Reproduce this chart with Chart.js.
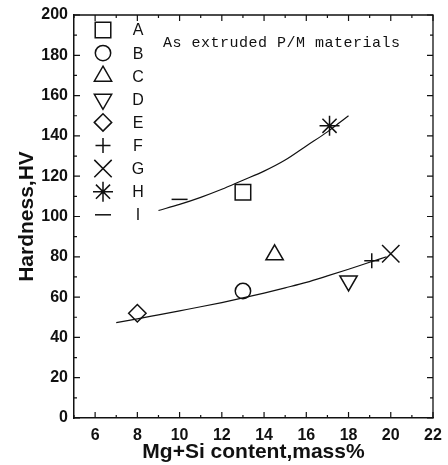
<!DOCTYPE html>
<html>
<head>
<meta charset="utf-8">
<script src="https://cdn.jsdelivr.net/npm/chart.js@4.4.0/dist/chart.umd.min.js"></script>
<style>
  html, body { margin: 0; padding: 0; background: #fff; }
  #wrap { width: 448px; height: 465px; }
</style>
</head>
<body>
<div id="wrap"><canvas id="hardnessChart" width="448" height="465"></canvas></div>
<script>
// Measured points, one per material
const materials = ["A", "B", "C", "D", "E", "F", "G", "H", "I"];
const mgSiContent = [13, 13, 14.5, 18, 8, 19.1, 20, 17.1, 10];
const hardnessHV = [112, 63, 81, 68, 52, 78, 81.5, 145, 108.5];

// Trend curves
const upperCurveX = [9, 10, 11, 12, 13, 14, 15, 16, 17, 17.5, 18];
const upperCurveY = [103, 106, 109.5, 113.5, 118, 122.5, 128, 135, 142, 146, 150];
const lowerCurveX = [7, 8, 9, 10, 11, 12, 13, 14, 15, 16, 17, 18, 19, 19.8];
const lowerCurveY = [47.3, 49.2, 51.2, 53.2, 55.2, 57.3, 59.6, 62, 64.6, 67.3, 70.5, 73.8, 77.3, 80];

// Axis tick labels
const xTickLabels = [6, 8, 10, 12, 14, 16, 18, 20, 22];
const yTickLabels = [0, 20, 40, 60, 80, 100, 120, 140, 160, 180, 200];

const INK = "#111";

// marker look for each material
const markerStyles = {
  A: { pointStyle: "rect", radius: 11, rotation: 0 },
  B: { pointStyle: "circle", radius: 7.7, rotation: 0 },
  C: { pointStyle: "triangle", radius: 10, rotation: 0 },
  D: { pointStyle: "triangle", radius: 10, rotation: 180 },
  E: { pointStyle: "rectRot", radius: 8.7, rotation: 0 },
  F: { pointStyle: "cross", radius: 7.5, rotation: 0 },
  G: { pointStyle: "crossRot", radius: 12.3, rotation: 0 },
  H: { pointStyle: "star", radius: 10, rotation: 0 },
  I: { pointStyle: "line", radius: 8, rotation: 0 },
};

const pointDatasets = materials.map((name, i) => ({
  label: name,
  data: [{ x: mgSiContent[i], y: hardnessHV[i] }],
  showLine: false,
  pointStyle: markerStyles[name].pointStyle,
  pointRotation: markerStyles[name].rotation,
  pointRadius: markerStyles[name].radius,
  pointHoverRadius: markerStyles[name].radius,
  pointBorderColor: INK,
  pointBackgroundColor: "rgba(0,0,0,0)",
  pointBorderWidth: 1.5,
}));

function curveDataset(xs, ys) {
  return {
    label: "",
    data: xs.map((x, i) => ({ x: x, y: ys[i] })),
    showLine: true,
    borderColor: INK,
    borderWidth: 1.2,
    pointRadius: 0,
    cubicInterpolationMode: "monotone",
    fill: false,
  };
}

// frame, inward ticks, legend and caption
const decorPlugin = {
  id: "decor",
  afterDatasetsDraw(chart) {
    const ctx = chart.ctx;
    const area = chart.chartArea;
    const xs = chart.scales.x;
    const ys = chart.scales.y;
    ctx.save();
    ctx.strokeStyle = INK;
    ctx.lineWidth = 1.3;

    // top and right frame lines
    ctx.beginPath();
    ctx.moveTo(area.left, area.top);
    ctx.lineTo(area.right, area.top);
    ctx.lineTo(area.right, area.bottom);
    ctx.stroke();

    // inward ticks on all four sides
    ctx.lineWidth = 1.2;
    ctx.beginPath();
    for (let v = 5; v <= 22; v++) {
      const px = xs.getPixelForValue(v);
      const len = v % 2 === 0 ? 6 : 3;
      ctx.moveTo(px, area.bottom);
      ctx.lineTo(px, area.bottom - len);
      ctx.moveTo(px, area.top);
      ctx.lineTo(px, area.top + len);
    }
    for (let v = 0; v <= 200; v += 10) {
      const py = ys.getPixelForValue(v);
      const len = v % 20 === 0 ? 6 : 3;
      ctx.moveTo(area.left, py);
      ctx.lineTo(area.left + len, py);
      ctx.moveTo(area.right, py);
      ctx.lineTo(area.right - len, py);
    }
    ctx.stroke();

    // legend inside the plot
    ctx.lineWidth = 1.5;
    materials.forEach((name, i) => {
      const y = area.top + 15 + i * 23.1;
      const m = markerStyles[name];
      ctx.strokeStyle = INK;
      ctx.fillStyle = "rgba(0,0,0,0)";
      Chart.helpers.drawPoint(ctx, {
        pointStyle: m.pointStyle,
        rotation: m.rotation,
        radius: m.radius,
        borderWidth: 1.5,
      }, area.left + 29, y);
    });
    ctx.fillStyle = INK;
    ctx.font = "16px 'Liberation Sans', Arial, sans-serif";
    ctx.textAlign = "center";
    ctx.textBaseline = "middle";
    materials.forEach((name, i) => {
      ctx.fillText(name, area.left + 64, area.top + 16 + i * 23.1);
    });

    // caption
    ctx.font = "15px 'Liberation Mono', monospace";
    ctx.letterSpacing = "0.5px";
    ctx.textAlign = "left";
    ctx.fillText("As extruded P/M materials", area.left + 89, area.top + 28);
    ctx.restore();
  },
};

const ctx = document.getElementById("hardnessChart").getContext("2d");

const hardnessChart = new Chart(ctx, {
  type: "scatter",
  data: {
    datasets: [
      ...pointDatasets,
      curveDataset(upperCurveX, upperCurveY),
      curveDataset(lowerCurveX, lowerCurveY),
    ],
  },
  options: {
    responsive: false,
    animation: false,
    layout: {
      padding: { top: 15, right: 15, left: 0, bottom: 0 },
    },
    plugins: {
      legend: { display: false },
      tooltip: { enabled: false },
    },
    scales: {
      x: {
        type: "linear",
        min: 5,
        max: 22,
        afterBuildTicks: (scale) => {
          scale.ticks = xTickLabels.map((v) => ({ value: v }));
        },
        afterFit: (scale) => {
          scale.height = 47;
        },
        grid: { display: false },
        border: { display: true, color: INK, width: 1.5 },
        ticks: {
          color: INK,
          padding: 0,
          maxRotation: 0,
          font: { family: "'Liberation Sans', Arial, sans-serif", size: 16, weight: "bold" },
        },
        title: {
          display: true,
          text: "Mg+Si content,mass%",
          color: INK,
          padding: { top: 0, bottom: 0 },
          font: { family: "'Liberation Sans', Arial, sans-serif", size: 21, weight: "bold" },
        },
      },
      y: {
        type: "linear",
        min: 0,
        max: 200,
        afterBuildTicks: (scale) => {
          scale.ticks = yTickLabels.map((v) => ({ value: v }));
        },
        afterFit: (scale) => {
          scale.width = 74;
        },
        grid: { display: false },
        border: { display: true, color: INK, width: 1.5 },
        ticks: {
          color: INK,
          padding: -2,
          font: { family: "'Liberation Sans', Arial, sans-serif", size: 16, weight: "bold" },
        },
        title: {
          display: true,
          text: "Hardness,HV",
          color: INK,
          padding: { top: 15, bottom: 0 },
          font: { family: "'Liberation Sans', Arial, sans-serif", size: 21, weight: "bold" },
        },
      },
    },
  },
  plugins: [decorPlugin],
});
</script>
</body>
</html>
